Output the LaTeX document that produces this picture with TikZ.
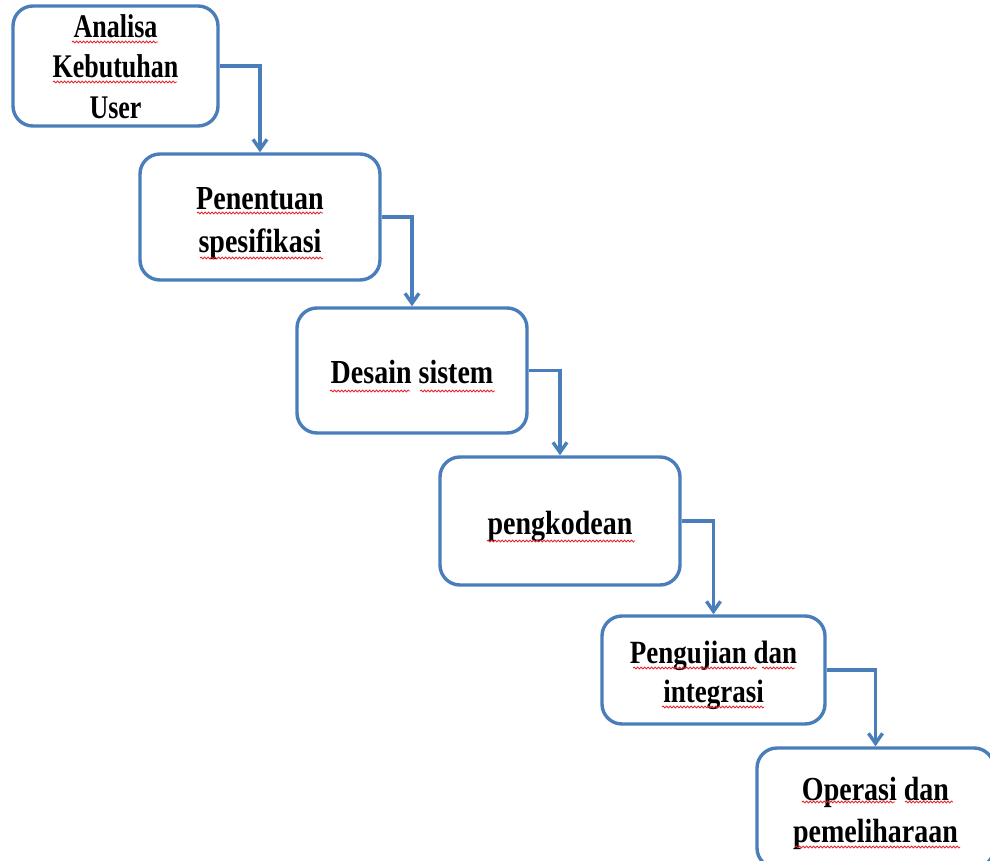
\documentclass[tikz,border=0pt]{standalone}
\usepackage{fontspec}
\setmainfont{Liberation Serif}
\usepackage{graphicx}
\usetikzlibrary{arrows.meta,decorations.pathmorphing}
\definecolor{flowblue}{HTML}{4A7EBB}
\definecolor{spellred}{HTML}{E8232A}
% #1 font size, #2 baseline skip, #3 vertical stretch, #4 downward shift, #5 lines
\newcommand\steptext[5]{\raisebox{-#4}[\height][\depth]{\scalebox{1}[#3]{\fontsize{#1}{#2}\selectfont\bfseries\begin{tabular}{@{}c@{}}#5\end{tabular}}}}
% red wavy underline from x=#1 to x=#2 at height #3
\newcommand\wavy[3]{\draw[squig] (#1,#3) -- (#2,#3);}

\begin{document}
\begin{tikzpicture}[x=1pt,y=-1pt,
  stepbox/.style={draw=flowblue, line width=3.4pt, rounded corners=20pt, fill=white,
                  inner sep=0pt, align=center},
  flow/.style={draw=flowblue, line width=3.4pt, -{Straight Barb[length=10pt,width=14pt]}},
  squig/.style={draw=spellred, line width=0.8pt, decorate,
                decoration={snake, amplitude=1pt, segment length=3.5pt}}]
\useasboundingbox (0,0) rectangle (990,861);
\clip (0,0) rectangle (990,861);

% process steps
\node[stepbox, minimum width=205pt, minimum height=112pt] (b1) at (115.5,66)
  {\steptext{26}{31.5}{1.27}{4pt}{Analisa\\Kebutuhan\\User}};
\node[stepbox, minimum width=240pt, minimum height=126pt] (b2) at (260,217)
  {\steptext{28}{35.8}{1.2}{5pt}{Penentuan\\spesifikasi}};
\node[stepbox, minimum width=230pt, minimum height=125pt] (b3) at (412,370.5)
  {\steptext{28}{35}{1.2}{5pt}{Desain sistem}};
\node[stepbox, minimum width=240pt, minimum height=128pt] (b4) at (560,521)
  {\steptext{28}{35}{1.2}{5pt}{pengkodean}};
\node[stepbox, minimum width=223pt, minimum height=108pt] (b5) at (713.5,670)
  {\steptext{27}{32.5}{1.2}{5pt}{Pengujian dan\\integrasi}};
\node[stepbox, minimum width=237pt, minimum height=120pt] (b6) at (875.5,808)
  {\steptext{28}{35}{1.2}{5pt}{Operasi dan\\pemeliharaan}};

% step-to-step connectors
\draw[flow] (b1.east) -| (b2.north);
\draw[flow] (b2.east) -| (b3.north);
\draw[flow] (b3.east) -| (b4.north);
\draw[flow] (b4.east) -| (b5.north);
\draw[flow] (b5.east) -| (b6.north);

% spell-check underlines
\wavy{72}{158}{42}
\wavy{53}{177}{82}
\wavy{197}{323}{213}
\wavy{200}{323}{258}
\wavy{330}{410}{391}
\wavy{420}{495}{391}
\wavy{487}{635}{541}
\wavy{633}{757}{668}
\wavy{762}{795}{668}
\wavy{662}{764}{707}
\wavy{802}{895}{802}
\wavy{905}{953}{802}
\wavy{795}{960}{847}
\end{tikzpicture}
\end{document}
